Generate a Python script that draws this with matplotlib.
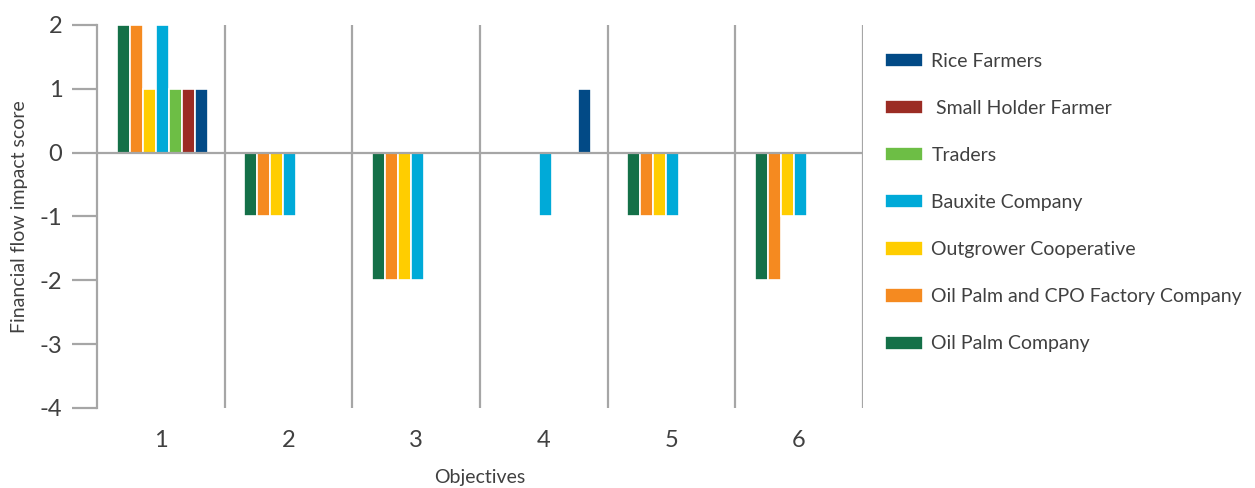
import matplotlib
matplotlib.use("Agg")
import matplotlib.pyplot as plt
import numpy as np

plt.rcParams['font.family'] = ['Lato', 'DejaVu Sans']
plt.rcParams['axes.unicode_minus'] = False

objectives = ['1', '2', '3', '4', '5', '6']
series = ['Oil Palm Company', 'Oil Palm and CPO Factory Company', 'Outgrower Cooperative',
          'Bauxite Company', 'Traders', ' Small Holder Farmer', 'Rice Farmers']
colors = ['#147048', '#F58A20', '#FFCD00', '#00AAD8', '#6DBE45', '#9B2C24', '#024A86']

oil_palm = [2, -1, -2, 0, -1, -2]
oil_palm_cpo = [2, -1, -2, 0, -1, -2]
outgrower = [1, -1, -2, 0, -1, -1]
bauxite = [2, -1, -2, -1, -1, -1]
traders = [1, 0, 0, 0, 0, 0]
smallholder = [1, 0, 0, 0, 0, 0]
rice = [1, 0, 0, 1, 0, 0]
values = [oil_palm, oil_palm_cpo, outgrower, bauxite, traders, smallholder, rice]

grey = '#A6A6A6'
text_col = '#404040'

fig = plt.figure(figsize=(12.55, 4.88), dpi=100)
ax = fig.add_axes([0.0773, 0.164, 0.6103, 0.7848])

x = np.arange(len(objectives))
w = 0.102
for i, (name, vals, c) in enumerate(zip(series, values, colors)):
    ax.bar(x + (i - 3) * w + 0.01, vals, w, color=c, edgecolor='white', linewidth=1.2, label=name)

ax.set_xlim(-0.5, len(objectives) - 0.5)
ax.set_ylim(-4, 2)
ax.set_yticks(range(-4, 3))
ax.set_xticks(x)
ax.set_xticklabels(objectives)

# separators between objectives and the zero line
for b in np.arange(0.5, len(objectives) - 0.5 + 0.01, 1):
    ax.axvline(b, color=grey, lw=1.6, zorder=0)
ax.axhline(0, color=grey, lw=1.6, zorder=3)

for s in ['top', 'right', 'bottom']:
    ax.spines[s].set_visible(False)
ax.spines['left'].set_color(grey)
ax.spines['left'].set_linewidth(1.6)
ax.tick_params(axis='y', length=18, width=1.6, color=grey, labelsize=17, labelcolor=text_col, pad=7)
ax.tick_params(axis='x', length=0, labelsize=17, labelcolor=text_col, pad=16)

ax.set_ylabel('Financial flow impact score', fontsize=14, color=text_col, labelpad=8)
ax.set_xlabel('Objectives', fontsize=14, color=text_col, labelpad=13)

handles, labels = ax.get_legend_handles_labels()
fig.legend(handles[::-1], labels[::-1], loc='upper left', bbox_to_anchor=(0.691, 0.928),
           frameon=False, fontsize=14, labelspacing=1.55, handlelength=1.95,
           handleheight=0.75, handletextpad=0.45, labelcolor=text_col)

fig.savefig('out.png', dpi=100)
